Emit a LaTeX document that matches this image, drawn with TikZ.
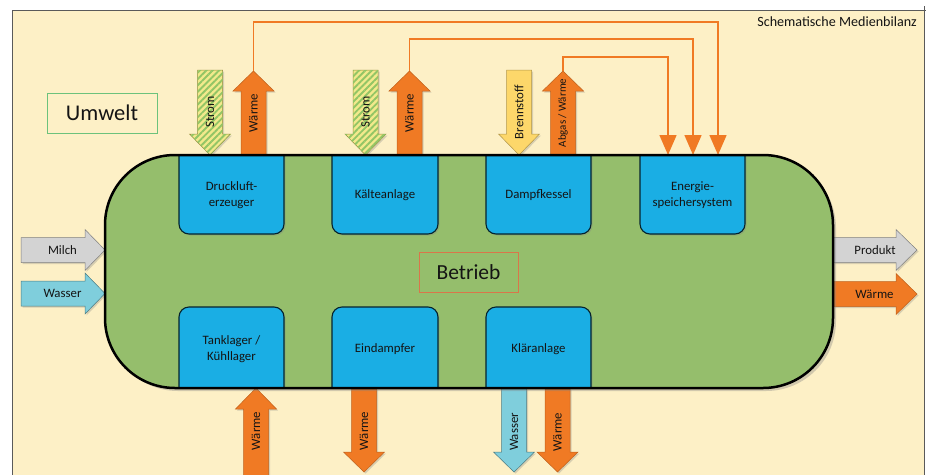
\documentclass[tikz,border=0pt]{standalone}
\usepackage{fontspec}
\setmainfont{Carlito}
\usetikzlibrary{shadows,patterns.meta,arrows.meta}
\definecolor{bgbeige}{HTML}{FDF0C6}
\definecolor{bodygreen}{HTML}{95BE6C}
\definecolor{boxblue}{HTML}{1AAEE4}
\definecolor{heat}{HTML}{F07A24}
\definecolor{milkgray}{HTML}{D3D3D3}
\definecolor{waterblue}{HTML}{7FCEDC}
\definecolor{fuel}{HTML}{FDD76A}
\definecolor{stromyellow}{HTML}{F2E98C}
\definecolor{stromgreen}{HTML}{92C565}
\definecolor{txt}{HTML}{141414}
\definecolor{umweltgreen}{HTML}{6CC27C}
\definecolor{betriebred}{HTML}{D9764A}
\definecolor{framegray}{HTML}{5A5A5A}
\newcommand{\blockV}[5]{\path[#1] (#2-12.5,#3) -- (#2-12.5,#4) -- (#2-20.5,#4) -- (#2,#5) -- (#2+20.5,#4) -- (#2+12.5,#4) -- (#2+12.5,#3) -- cycle;}
\newcommand{\blockH}[5]{\path[#1] (#3,#2-12.5) -- (#4,#2-12.5) -- (#4,#2-20.5) -- (#5,#2) -- (#4,#2+20.5) -- (#4,#2+12.5) -- (#3,#2+12.5) -- cycle;}
\tikzset{
  ashadow/.style={drop shadow={shadow xshift=1.5pt,shadow yshift=-1.5pt,opacity=0.3}},
  heatarrow/.style={fill=heat, draw=heat!80!black, line width=0.5pt, ashadow},
  stromarrow/.style={fill=stromyellow, draw=olive!60!gray, line width=0.5pt, ashadow,
    postaction={pattern={Lines[angle=45,distance=4.5pt,line width=1.9pt]}, pattern color=stromgreen}},
  fuelarrow/.style={fill=fuel, draw=fuel!70!black, line width=0.5pt, ashadow},
  milkarrow/.style={fill=milkgray, draw=gray, line width=0.5pt, ashadow},
  waterarrow/.style={fill=waterblue, draw=waterblue!60!black, line width=0.5pt, ashadow},
  bluebox/.style={fill=boxblue, draw=black!80!boxblue, line width=1.1pt, rounded corners=10pt, ashadow},
  lbl/.style={text=txt, font=\fontsize{12.8}{15.5}\selectfont, align=center, inner sep=0pt},
  vlbl/.style={lbl, rotate=90},
  heatline/.style={draw=heat, line width=1.5pt, -{Triangle[width=17pt,length=20pt]}},
}
\begin{document}
\begin{tikzpicture}[x=1pt,y=-1pt]
\useasboundingbox (0,0) rectangle (936,474);
% background
\fill[bgbeige] (12,10) rectangle (924,480);
\draw[framegray, line width=0.8pt] (12,480) -- (12,10) -- (926,10);
\draw[framegray, line width=0.8pt] (924,6) -- (924,480);
\node[anchor=east, text=txt, font=\fontsize{14.1}{16}\selectfont, inner sep=0pt] (title) at (917,22) {Schematische Medienbilanz};
% labels of areas
\node[draw=umweltgreen, line width=1pt, minimum width=110pt, minimum height=40pt, text=txt, font=\fontsize{22.5}{24}\selectfont] (umwelt) at (102,113) {Umwelt};
% top arrows
\blockV{stromarrow}{210}{70}{134}{155}
\blockV{heatarrow}{253.5}{155}{91}{71}
\blockV{stromarrow}{365.5}{70}{134}{155}
\blockV{heatarrow}{409.5}{155}{91}{71}
\blockV{fuelarrow}{519}{70}{134}{155}
\blockV{heatarrow}{563}{155}{91}{71}
% bottom arrows
\blockV{heatarrow}{256}{482}{409}{388}
\blockV{heatarrow}{364}{388}{452}{472}
\blockV{waterarrow}{514}{388}{452}{472}
\blockV{heatarrow}{557.5}{388}{452}{472}
% side arrows
\blockH{milkarrow}{250}{21}{85}{105}
\blockH{waterarrow}{293.5}{21}{85}{105}
\blockH{milkarrow}{250}{833}{896}{917}
\blockH{heatarrow}{294}{833}{896}{917}
% heat lines to the storage system
\coordinate (w1tip) at (253.5,71);
\coordinate (w2tip) at (409.5,71);
\coordinate (w3tip) at (563,71);
\coordinate (es1) at (668,155);
\coordinate (es2) at (693,155);
\coordinate (es3) at (718,155);
\draw[heatline] (w1tip) -- (w1tip |- 0,22) -| (es3);
\draw[heatline] (w2tip) -- (w2tip |- 0,39) -| (es2);
\draw[heatline] (w3tip) -- (w3tip |- 0,57) -| (es1);
% plant body
\fill[bodygreen, rounded corners=70pt, drop shadow={shadow xshift=3pt,shadow yshift=-3pt,opacity=0.35}] (105,155) rectangle (833,388);
% blue units
\begin{scope}
\clip (150,155) rectangle (800,300);
\path[bluebox] (179,140) rectangle (284,234);
\path[bluebox] (332,140) rectangle (438,234);
\path[bluebox] (486,140) rectangle (591,234);
\path[bluebox] (640,140) rectangle (745,234);
\end{scope}
\begin{scope}
\clip (150,300) rectangle (800,388);
\path[bluebox] (179,307) rectangle (284,403);
\path[bluebox] (332,307) rectangle (438,403);
\path[bluebox] (486,307) rectangle (591,403);
\end{scope}
\draw[black, line width=2.5pt, rounded corners=70pt] (105,155) rectangle (833,388);
\node[draw=betriebred, line width=0.8pt, minimum width=99pt, minimum height=40pt, text=txt, font=\fontsize{21.5}{24}\selectfont] (betrieb) at (468.5,272) {Betrieb};
% unit labels
\node[lbl] (druck) at (231.5,195) {Druckluft-\\erzeuger};
\node[lbl] (kaelte) at (385,195) {Kälteanlage};
\node[lbl] (dampf) at (538.5,195) {Dampfkessel};
\node[lbl] (energie) at (692.5,195) {Energie-\\speichersystem};
\node[lbl] (tank) at (231.5,349) {Tanklager /\\Kühllager};
\node[lbl] (eind) at (385,349) {Eindampfer};
\node[lbl] (klaer) at (538.5,349) {Kläranlage};
% arrow labels
\node[vlbl] (l1) at (210,112) {Strom};
\node[vlbl] (l2) at (253.5,113) {Wärme};
\node[vlbl] (l3) at (365.5,112) {Strom};
\node[vlbl] (l4) at (409.5,113) {Wärme};
\node[vlbl] (l5) at (519,112) {Brennstoff};
\node[vlbl, font=\fontsize{11}{13}\selectfont] (l6) at (563,113) {Abgas / Wärme};
\node[vlbl] (l7) at (256,431) {Wärme};
\node[vlbl] (l8) at (364,431) {Wärme};
\node[vlbl] (l9) at (514,432) {Wasser};
\node[vlbl] (l10) at (557.5,432) {Wärme};
\node[lbl] (l11) at (62.5,250) {Milch};
\node[lbl] (l12) at (62.5,293.5) {Wasser};
\node[lbl] (l13) at (875,250) {Produkt};
\node[lbl] (l14) at (874.5,294) {Wärme};
\end{tikzpicture}
\end{document}
